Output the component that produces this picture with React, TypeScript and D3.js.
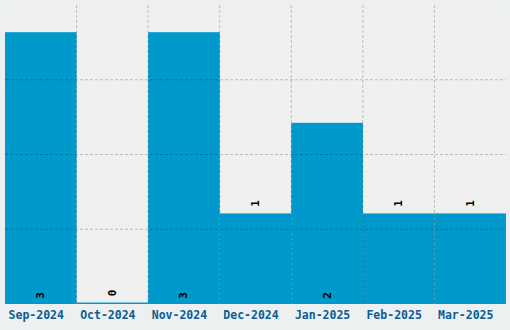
import React from "react";
import * as d3 from "d3";

const categories = ["Sep-2024", "Oct-2024", "Nov-2024", "Dec-2024", "Jan-2025", "Feb-2025", "Mar-2025"];
const values = [3, 0, 3, 1, 2, 1, 1];
const yMax = 3.3;
const gridDivisions = 4;

const W = 510;
const H = 330;
const M = { left: 5, right: 4, top: 5, bottom: 26 };

export default function App() {
  const x = d3.scaleBand<string>().domain(categories).range([M.left, W - M.right]).padding(0);
  const y = d3.scaleLinear().domain([0, yMax]).range([H - M.bottom, M.top]);
  const bw = x.bandwidth();
  const gridVals = d3.range(1, gridDivisions).map((i) => (yMax * i) / gridDivisions);
  const font = "'DejaVu Sans Mono', monospace";

  return (
    <svg width={W} height={H} style={{ position: "absolute", left: 0, top: 0, display: "block" }}>
      <rect x={0} y={0} width={W} height={H} fill="#ecf0f1" />
      <rect x={M.left} y={M.top} width={W - M.left - M.right} height={H - M.top - M.bottom} fill="#f0f0f0" />
      {categories.map((c, i) => {
        const v = values[i];
        const top = y(v);
        const h = Math.max(y(0) - top, 1.5);
        return <rect key={c} x={x(c)} y={y(0) - h} width={bw} height={h} fill="#0099cc" />;
      })}
      {gridVals.map((g) => (
        <line key={"h" + g} x1={M.left} x2={W - M.right} y1={y(g)} y2={y(g)} stroke="#000" strokeOpacity={0.22} strokeDasharray="3,2" />
      ))}
      {categories.slice(1).map((c) => (
        <line key={"v" + c} x1={x(c)} x2={x(c)} y1={M.top} y2={y(0)} stroke="#000" strokeOpacity={0.22} strokeDasharray="3,2" />
      ))}
      {categories.map((c, i) => {
        const v = values[i];
        const cx = (x(c) as number) + bw / 2;
        const above = v > 0 && v < 2;
        const cy = above ? y(v) - 10 : y(0) - (v === 0 ? 11 : 8.5);
        return (
          <text
            key={"l" + c}
            transform={`translate(${cx},${cy}) rotate(-90)`}
            textAnchor="middle"
            dominantBaseline="central"
            fontFamily={font}
            fontWeight="bold"
            fontSize={11}
            fill="#000"
          >
            {v}
          </text>
        );
      })}
      {categories.map((c) => (
        <text
          key={"x" + c}
          x={(x(c) as number) + bw / 2 - 4.5}
          y={319}
          textAnchor="middle"
          fontFamily={font}
          fontWeight="bold"
          fontSize={11.5}
          fill="#0b5d94"
        >
          {c}
        </text>
      ))}
    </svg>
  );
}
